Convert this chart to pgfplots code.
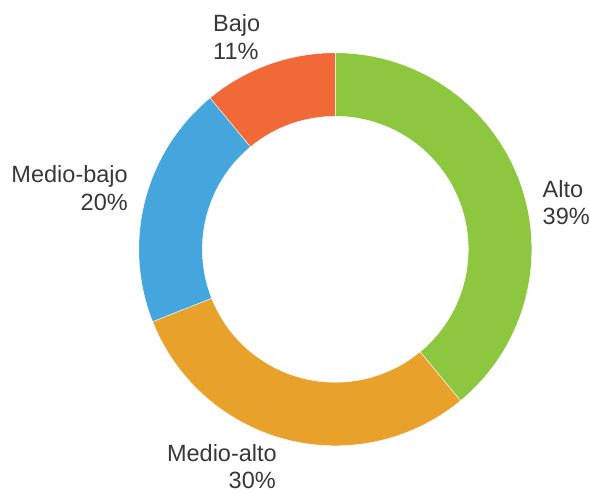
\documentclass[border=0pt]{standalone}
\usepackage{pgfplots}
\pgfplotsset{compat=1.18}
\usepackage{fontspec}
\setmainfont{Liberation Sans}
\definecolor{cAlto}{HTML}{8DC63F}
\definecolor{cMalto}{HTML}{E8A22B}
\definecolor{cMbajo}{HTML}{44A6DC}
\definecolor{cBajo}{HTML}{F26938}
\definecolor{txt}{HTML}{383838}
% donut geometry (axis units = bp)
\def\cx{335.3}
\def\cy{242.7}
\def\Ro{196.5}
\def\Ri{133}
% segment: #1 = cumulative start value, #2 = value (percent), #3 = colour
\newcommand\seg[3]{%
  \pgfmathsetmacro\aS{90-3.6*#1}%
  \pgfmathsetmacro\aE{90-3.6*(#1+#2)}%
  \pgfmathsetmacro\xA{\cx+\Ro*cos(\aS)}%
  \pgfmathsetmacro\yA{\cy+\Ro*sin(\aS)}%
  \pgfmathsetmacro\xB{\cx+\Ri*cos(\aE)}%
  \pgfmathsetmacro\yB{\cy+\Ri*sin(\aE)}%
  \edef\temp{\noexpand\fill[#3, draw=white, line width=0.4bp]
    (axis cs:\xA,\yA) arc[start angle=\aS, end angle=\aE, radius=\Ro bp]
    -- (axis cs:\xB,\yB) arc[start angle=\aE, end angle=\aS, radius=\Ri bp] -- cycle;}%
  \temp
}
\begin{document}
\begin{tikzpicture}
\begin{axis}[
  hide axis, scale only axis, width=590bp, height=492bp,
  xmin=0, xmax=590, ymin=0, ymax=492, clip=false,
]
\path (axis cs:0,0) rectangle (axis cs:590,492);
% values: Alto 39, Medio-alto 30, Medio-bajo 20, Bajo 11
\seg{0}{39}{cAlto}
\seg{39}{30}{cMalto}
\seg{69}{20}{cMbajo}
\seg{89}{11}{cBajo}
\begin{scope}[every node/.style={inner sep=0pt, text=txt, font=\fontsize{23.6}{28}\selectfont}]
\node[anchor=base west] at (axis cs:213,460) {Bajo};
\node[anchor=base west] at (axis cs:213,432) {11\%};
\node[anchor=base east] at (axis cs:128,309.7) {Medio-bajo};
\node[anchor=base east] at (axis cs:128,281) {20\%};
\node[anchor=base west] at (axis cs:542.5,294.7) {Alto};
\node[anchor=base west] at (axis cs:542.5,267) {39\%};
\node[anchor=base east] at (axis cs:277,31) {Medio-alto};
\node[anchor=base east] at (axis cs:276,3.5) {30\%};
\end{scope}
\end{axis}
\end{tikzpicture}
\end{document}
